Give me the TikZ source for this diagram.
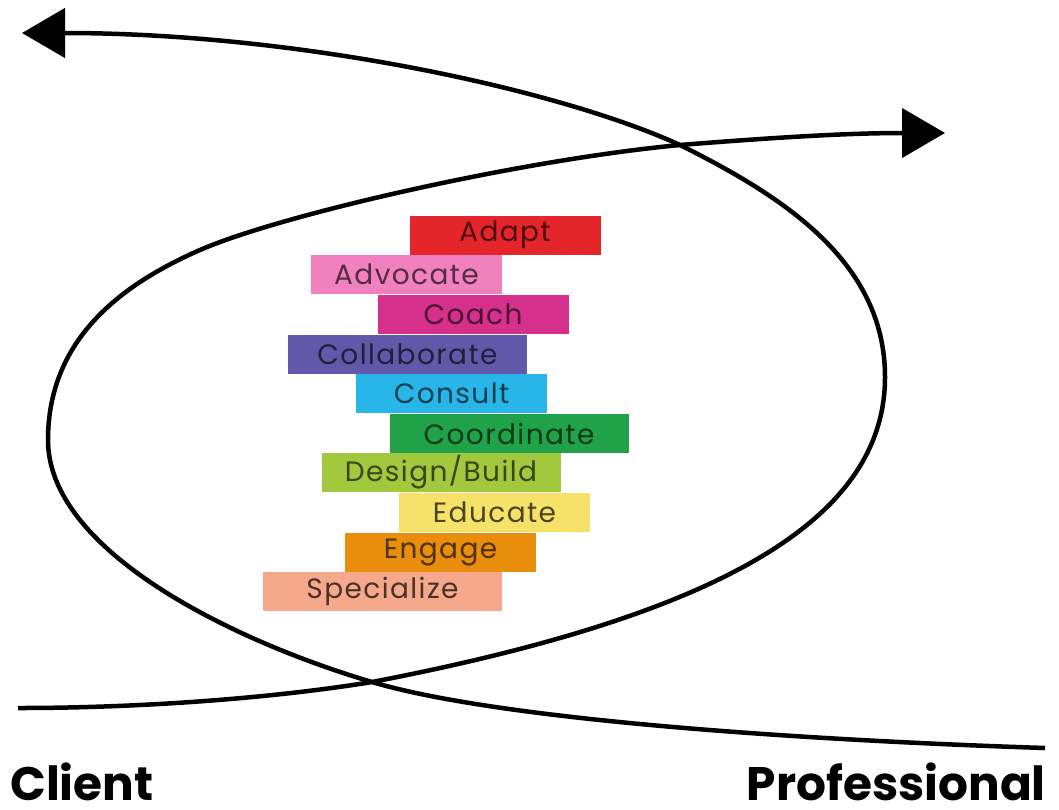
\documentclass[tikz,border=0pt]{standalone}
\usepackage{fontspec}
\setmainfont{Poppins}
\newfontfamily\rolefont[LetterSpace=5]{Poppins}
\usepackage{xcolor}
\usepackage{tikz}
\usetikzlibrary{positioning,arrows.meta}

\definecolor{cadapt}{RGB}{228,38,42}
\definecolor{cadvocate}{RGB}{240,128,190}
\definecolor{ccoach}{RGB}{212,48,140}
\definecolor{ccollab}{RGB}{98,88,170}
\definecolor{cconsult}{RGB}{40,182,232}
\definecolor{ccoord}{RGB}{32,162,72}
\definecolor{cdesign}{RGB}{162,200,62}
\definecolor{ceducate}{RGB}{246,226,104}
\definecolor{cengage}{RGB}{232,142,12}
\definecolor{cspecial}{RGB}{246,168,138}

\begin{document}
\begin{tikzpicture}[x=1pt, y=-1pt,
    role/.style={minimum height=39pt, inner sep=0pt, font=\rolefont\fontsize{28}{28}\selectfont},
    shortrole/.style={role, minimum width=191pt},
    longrole/.style={role, minimum width=239pt},
    loopline/.style={line width=4.5pt, -{Triangle[length=43pt, width=49pt]}},
    sidelabel/.style={inner sep=0pt, font=\bfseries\fontsize{47}{47}\selectfont}]
\useasboundingbox (0,0) rectangle (1059,809);

\node[shortrole, fill=cadapt, text=cadapt!35!black] (adapt) at (505,235) {Adapt};
\node[shortrole, fill=cadvocate, text=cadvocate!35!black] (advocate) at (406.5,274.5) {Advocate};
\node[shortrole, fill=ccoach, text=ccoach!35!black] (coach) at (473,314) {Coach};
\node[longrole, fill=ccollab, text=ccollab!35!black] (collaborate) at (407.5,354) {Collaborate};
\node[shortrole, fill=cconsult, text=cconsult!35!black] (consult) at (451.5,393.5) {Consult};
\node[longrole, fill=ccoord, text=ccoord!35!black] (coordinate) at (509,433.5) {Coordinate};
\node[longrole, fill=cdesign, text=cdesign!35!black] (design) at (441,472.5) {Design/Build};
\node[shortrole, fill=ceducate, text=ceducate!30!black] (educate) at (494.5,512.5) {Educate};
\node[shortrole, fill=cengage, text=cengage!35!black] (engage) at (440.5,552.5) {Engage};
\node[longrole, fill=cspecial, text=cspecial!30!black] (specialize) at (382.5,591.5) {Specialize};

\coordinate (client_start) at (18,708);
\coordinate (client_tip) at (22,33);
\coordinate (pro_start) at (1045,748);
\coordinate (pro_tip) at (945,133);
\coordinate (low_cross) at (372,682);
\coordinate (high_cross) at (680,145);

\draw[loopline] (client_start) .. controls (150,708) and (280,697) .. (low_cross)
    .. controls (720,615) and (885,520) .. (885,377)
    .. controls (885,260) and (780,195) .. (high_cross)
    .. controls (560,90) and (300,33) .. (client_tip);
\draw[loopline] (pro_start) .. controls (800,740) and (500,720) .. (low_cross)
    .. controls (230,640) and (48,550) .. (48,440)
    .. controls (48,340) and (120,285) .. (200,250)
    .. controls (280,215) and (520,160) .. (high_cross)
    .. controls (780,137) and (850,133) .. (pro_tip);

\node[sidelabel, anchor=base west] (client) at (10,800) {Client};
\node[sidelabel, anchor=base east] (professional) at (1046,800) {Professional};
\end{tikzpicture}
\end{document}
